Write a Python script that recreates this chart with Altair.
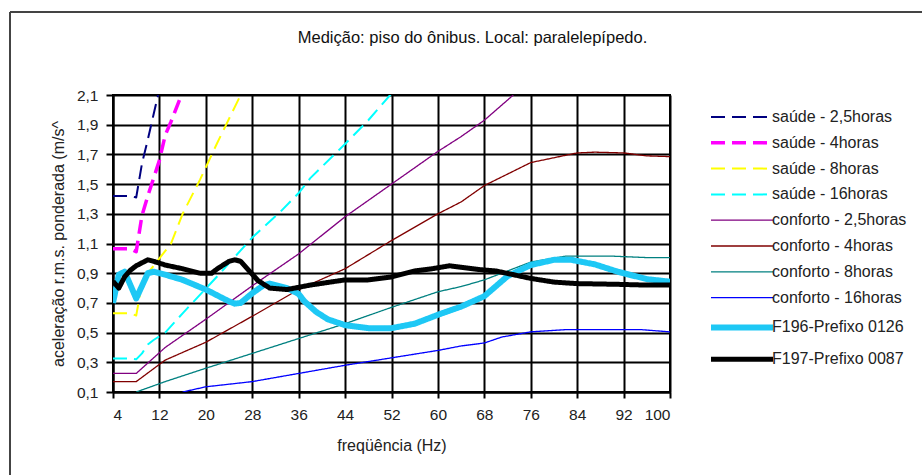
import altair as alt
import pandas as pd

FONT = "Liberation Sans"

series_names = [
    "saúde - 2,5horas", "saúde - 4horas", "saúde - 8horas", "saúde - 16horas",
    "conforto - 2,5horas", "conforto - 4horas", "conforto - 8horas", "conforto - 16horas",
    "F196-Prefixo 0126", "F197-Prefixo 0087",
]
series_colors = ["#000080", "#FF00FF", "#FFFF00", "#00FFFF",
                 "#800080", "#800000", "#008080", "#0000FF",
                 "#1EC8F5", "#000000"]
series_dash = [[14, 7], [14, 7], [14, 7], [14, 7],
               [1, 0], [1, 0], [1, 0], [1, 0], [1, 0], [1, 0]]
series_width = [2, 3.5, 2, 2, 1.3, 1.3, 1.3, 1.3, 6, 5]

# frequency (Hz) and weighted r.m.s. acceleration (m/s²)
s25_x = [4, 7, 8, 9, 10, 11, 12]
s25_y = [1.42, 1.42, 1.41, 1.64, 1.80, 1.97, 2.14]
s4_x = [4, 7, 8, 9, 10, 11, 12, 13, 14, 16]
s4_y = [1.065, 1.065, 1.045, 1.29, 1.42, 1.54, 1.66, 1.83, 1.92, 2.12]
s8_x = [4, 7, 8, 9, 10, 12, 14, 16, 19, 22, 24, 26, 27]
s8_y = [0.63, 0.63, 0.615, 0.83, 0.90, 1.0, 1.1, 1.30, 1.53, 1.78, 1.94, 2.1, 2.16]
s16_x = [4, 7, 8, 9, 10, 11, 13, 16, 22, 28, 33, 36, 38, 44, 48, 52]
s16_y = [0.325, 0.325, 0.32, 0.36, 0.42, 0.45, 0.50, 0.63, 0.88, 1.14, 1.32, 1.44, 1.54, 1.77, 1.93, 2.11]
c25_x = [4, 8, 13, 20, 28, 36, 44, 52, 60, 64, 68, 73]
c25_y = [0.225, 0.225, 0.40, 0.59, 0.815, 1.03, 1.28, 1.50, 1.72, 1.82, 1.93, 2.1]
c4_x = [4, 8, 13, 20, 28, 36, 44, 52, 60, 64, 68, 76, 84, 87, 92, 96, 100]
c4_y = [0.17, 0.17, 0.315, 0.435, 0.61, 0.79, 0.93, 1.12, 1.30, 1.38, 1.49, 1.645, 1.71, 1.715, 1.71, 1.69, 1.685]
c8_x = [8, 13, 20, 28, 36, 44, 52, 60, 64, 68, 76, 82, 90, 96, 100]
c8_y = [0.10, 0.17, 0.26, 0.36, 0.46, 0.56, 0.67, 0.775, 0.81, 0.855, 0.975, 1.015, 1.015, 1.005, 1.005]
c16_x = [16, 20, 28, 36, 44, 52, 60, 64, 68, 71, 76, 82, 95, 100]
c16_y = [0.10, 0.135, 0.17, 0.225, 0.28, 0.33, 0.38, 0.41, 0.43, 0.47, 0.505, 0.52, 0.52, 0.505]
f196_x = [4, 5, 6, 8, 10, 11, 13, 16, 20, 24, 25, 26, 28, 30, 31, 34, 36, 37, 39, 41, 44, 48, 52,
          56, 60, 64, 68, 72, 76, 80, 83, 87, 91, 96, 100]
f196_y = [0.70, 0.89, 0.91, 0.73, 0.90, 0.91, 0.89, 0.855, 0.79, 0.71, 0.695, 0.70, 0.765, 0.82,
          0.83, 0.80, 0.76, 0.71, 0.64, 0.59, 0.55, 0.53, 0.53, 0.56, 0.62, 0.675, 0.745, 0.88, 0.955,
          0.99, 0.99, 0.96, 0.91, 0.86, 0.843]
f197_x = [4, 5, 6, 7, 8, 10, 11, 13, 16, 19, 21, 22, 24, 25, 26, 29, 31, 34, 38, 44, 48, 52,
          56, 59, 62, 67, 70, 76, 80, 84, 91, 96, 100]
f197_y = [0.845, 0.80, 0.875, 0.92, 0.95, 0.99, 0.98, 0.955, 0.93, 0.90, 0.90, 0.93, 0.98, 0.99,
          0.98, 0.85, 0.80, 0.79, 0.82, 0.855, 0.855, 0.875, 0.915, 0.93, 0.95, 0.925, 0.915,
          0.865, 0.84, 0.83, 0.825, 0.82, 0.82]

all_x = [s25_x, s4_x, s8_x, s16_x, c25_x, c4_x, c8_x, c16_x, f196_x, f197_x]
all_y = [s25_y, s4_y, s8_y, s16_y, c25_y, c4_y, c8_y, c16_y, f196_y, f197_y]

rows = []
for name, xs, ys in zip(series_names, all_x, all_y):
    for i, (xv, yv) in enumerate(zip(xs, ys)):
        rows.append({"serie": name, "freq": xv, "acel": yv, "i": i})
df = pd.DataFrame(rows)

x_ticks = list(range(4, 101, 8))
y_ticks = [round(0.1 + 0.2 * k, 1) for k in range(11)]


def make_legend():
    # wide, flat line sample: path spans 6.2x the nominal symbol size horizontally;
    # symbol stroke width looked up in the strokeWidth scale
    return alt.Legend(title=None, orient="none", legendX=621, legendY=14,
                      symbolType="M-6.2,0H6.2", symbolSize=100,
                      symbolStrokeWidth=alt.ExprRef(expr="scale('strokeWidth', datum.value)"),
                      labelFontSize=16, labelFont=FONT, labelColor="#222",
                      labelOffset=22, rowPadding=9.8, labelLimit=300)


lines = alt.Chart(df).mark_line(clip=True, strokeJoin="round", strokeCap="butt").encode(
    x=alt.X("freq:Q", scale=alt.Scale(domain=[4, 100], nice=False, zero=False),
            axis=alt.Axis(values=x_ticks, title="freqüência (Hz)", titlePadding=15,
                          labelPadding=9, tickSize=6)),
    y=alt.Y("acel:Q", scale=alt.Scale(domain=[0.1, 2.1], nice=False, zero=False),
            axis=alt.Axis(values=y_ticks, title="aceleração r.m.s. ponderada (m/s^",
                          labelExpr="replace(format(datum.value, '.1f'), '.', ',')",
                          titlePadding=10, labelPadding=8, tickSize=7)),
    color=alt.Color("serie:N", scale=alt.Scale(domain=series_names, range=series_colors),
                    legend=make_legend()),
    strokeDash=alt.StrokeDash("serie:N", scale=alt.Scale(domain=series_names, range=series_dash),
                              legend=make_legend()),
    strokeWidth=alt.StrokeWidth("serie:N",
                                scale=alt.Scale(type="ordinal", domain=series_names,
                                                range=series_width),
                                legend=None),
    order=alt.Order("i:Q"),
    detail="serie:N",
)

frame_h = alt.Chart(alt.Data(values=[{}])).mark_rule(color="#444", strokeWidth=2).encode(
    x=alt.value(-103), x2=alt.value(815), y=alt.value(-83))
frame_v = alt.Chart(alt.Data(values=[{}])).mark_rule(color="#444", strokeWidth=2).encode(
    x=alt.value(-103), y=alt.value(-83), y2=alt.value(385))

chart = alt.layer(frame_h, frame_v, lines).properties(
    width=557, height=297,
    title=alt.TitleParams("Medição: piso do ônibus. Local: paralelepípedo.", fontSize=16.5,
                          font=FONT, fontWeight="normal", color="#111", anchor="middle",
                          frame="group", dx=81, offset=-35),
    autosize=alt.AutoSizeParams(type="none"),
    padding={"left": 113, "top": 95, "right": 252, "bottom": 83},
).configure_view(stroke="black", strokeWidth=2).configure_axis(
    domainColor="black", domainWidth=2, tickColor="black", tickWidth=2,
    gridColor="black", gridWidth=2, gridOpacity=1, labelFont=FONT, labelFontSize=15.5,
    labelColor="#222", titleFont=FONT, titleFontSize=16, titleFontWeight="normal",
    titleColor="#222",
)

chart.save("out.html", embed_options={"renderer": "svg", "actions": False})
